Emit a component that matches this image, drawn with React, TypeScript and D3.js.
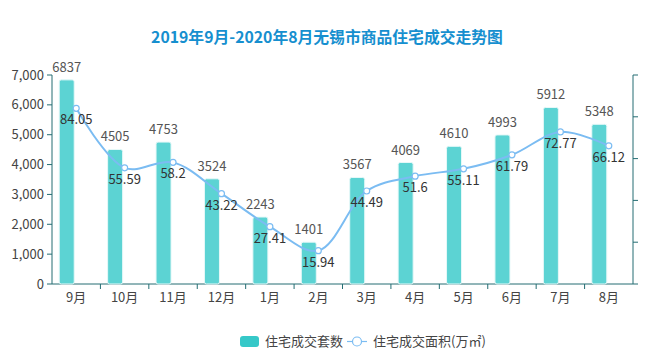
import React from 'react';
import { scaleBand, scaleLinear, line, curveCatmullRom } from 'd3';

const months = ['9月', '10月', '11月', '12月', '1月', '2月', '3月', '4月', '5月', '6月', '7月', '8月'];
const deals = [6837, 4505, 4753, 3524, 2243, 1401, 3567, 4069, 4610, 4993, 5912, 5348];
const areas = [84.05, 55.59, 58.2, 43.22, 27.41, 15.94, 44.49, 51.6, 55.11, 61.79, 72.77, 66.12];
const leftTicks = [0, 1000, 2000, 3000, 4000, 5000, 6000, 7000];
const rightTicks = [0, 20, 40, 60, 80, 100];

const W = 658;
const H = 364;
const left = 52;
const right = 633;
const top = 75;
const bottom = 284;

const FONT = '"Noto Sans CJK SC", "Noto Sans", sans-serif';
const AXIS = '#246d73';
const BAR = '#5cd3d3';
const LINE = '#7bbcf2';

export default function App() {
  const x = scaleBand<string>().domain(months).range([left, right]);
  const yL = scaleLinear().domain([0, 7000]).range([bottom, top]);
  const yR = scaleLinear().domain([0, 100]).range([bottom, top]);
  const bw = 15;
  const barOff = -9.5;
  const cx = (m: string) => (x(m) ?? 0) + x.bandwidth() / 2;

  const path = line<number>()
    .x((_, i) => cx(months[i]))
    .y(d => yR(d))
    .curve(curveCatmullRom.alpha(0.5))(areas);

  const fmt = (v: number) => v.toLocaleString('en-US');

  return (
    <svg width={W} height={H} style={{ position: 'absolute', left: 0, top: 0, background: '#fff' }} fontFamily={FONT}>
      <text x={W / 2 - 2} y={43} textAnchor="middle" fontSize={15.8} fontWeight="bold" fill="#168fcf">
        2019年9月-2020年8月无锡市商品住宅成交走势图
      </text>

      {/* left axis */}
      <line x1={left} x2={left} y1={top} y2={bottom} stroke={AXIS} />
      {leftTicks.map(t => (
        <g key={t}>
          <line x1={left - 5} x2={left} y1={yL(t)} y2={yL(t)} stroke={AXIS} />
          <text x={left - 8} y={yL(t) + 4.5} textAnchor="end" fontSize={13} fill="#444">{fmt(t)}</text>
        </g>
      ))}

      {/* right axis */}
      <line x1={right} x2={right} y1={top} y2={bottom} stroke={AXIS} />
      {rightTicks.map(t => (
        <line key={t} x1={right} x2={right + 5} y1={yR(t)} y2={yR(t)} stroke={AXIS} />
      ))}

      {/* x axis */}
      <line x1={left} x2={right} y1={bottom} y2={bottom} stroke={AXIS} />
      {months.map((m, i) => (
        <g key={m}>
          {i > 0 && <line x1={x(m)} x2={x(m)} y1={bottom} y2={bottom + 5} stroke={AXIS} />}
          <text x={cx(m)} y={bottom + 18} textAnchor="middle" fontSize={13} fill="#444">{m}</text>
        </g>
      ))}

      {/* bars */}
      {months.map((m, i) => (
        <g key={m}>
          <rect x={cx(m) + barOff - bw / 2} y={yL(deals[i])} width={bw} height={bottom - yL(deals[i])}
            fill={BAR} stroke="#e6f8f8" strokeWidth={1} rx={2} />
          <text x={cx(m) + barOff} y={yL(deals[i]) - 8} textAnchor="middle" fontSize={13} fill="#555">{deals[i]}</text>
        </g>
      ))}

      {/* line */}
      <path d={path ?? ''} fill="none" stroke={LINE} strokeWidth={2} />
      {months.map((m, i) => (
        <g key={m}>
          <circle cx={cx(m)} cy={yR(areas[i])} r={3} fill="#fff" stroke={LINE} strokeWidth={1.2} />
          <text x={cx(m)} y={yR(areas[i]) + 16} textAnchor="middle" fontSize={13} fill="#333">{areas[i]}</text>
        </g>
      ))}

      {/* legend */}
      <rect x={240} y={336} width={19} height={11} rx={3} fill="#36c8c8" />
      <text x={265} y={346} fontSize={13} fill="#444">住宅成交套数</text>
      <line x1={347} x2={367} y1={341.5} y2={341.5} stroke={LINE} strokeWidth={1.2} />
      <circle cx={357} cy={341.5} r={4.5} fill="#fff" stroke={LINE} strokeWidth={1.2} />
      <text x={373} y={346} fontSize={13} fill="#444">住宅成交面积(万㎡)</text>
    </svg>
  );
}
